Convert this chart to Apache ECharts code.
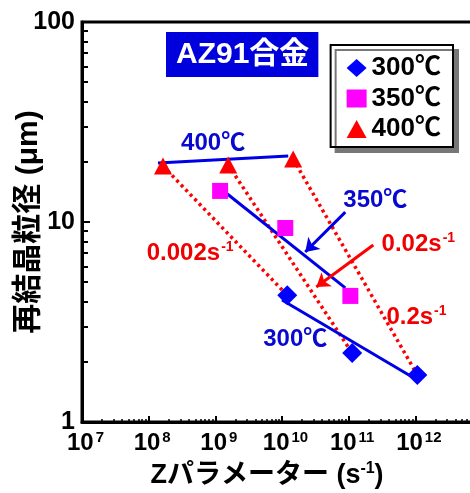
<!DOCTYPE html>
<html><head><meta charset="utf-8">
<script src="https://cdn.jsdelivr.net/npm/echarts@6/dist/echarts.min.js"></script>
<style>html,body{margin:0;padding:0;background:#fff}#c{width:470px;height:493px}</style>
</head><body><div id="c"></div>
<script>
// ---- data ----
const seriesNames = ['300℃', '350℃', '400℃'];
const z300 = [1.2e10, 1.13e11, 1.07e12];
const d300 = [4.3, 2.21, 1.72];
const z350 = [1.18e9, 1.12e10, 1.06e11];
const d350 = [14.3, 9.33, 4.27];
const z400 = [1.64e8, 1.56e9, 1.47e10];
const d400 = [19.05, 19.3, 20.65];
// fitted lines (end points)
const fit300Z = [1.0e10, 9.0e11];  const fit300D = [4.07, 1.68];
const fit350Z = [1.45e9, 8.9e10];  const fit350D = [13.96, 4.68];
const fit400Z = [1.38e8, 1.24e10]; const fit400D = [19.7, 21.4];
// strain-rate lines join 400℃ point i to 300℃ point i
const rateLabels = ['0.002', '0.02', '0.2'];
// annotation arrows
const arrow350Z = [8.9e10, 2.23e10];  const arrow350D = [11.2, 7.08];
const arrowRateZ = [2.34e11, 3.27e10]; const arrowRateD = [7.67, 4.73];
// annotation text anchors (data coordinates)
const noteText = ['400℃', '350℃', '300℃', '0.002s', '0.02s', '0.2s'];
const noteZ = [9.27e8, 2.51e11, 1.58e10, 4.19e8, 1.11e12, 1.04e12];
const noteD = [24.8, 12.9, 2.6, 7.0, 7.76, 3.35];
const noteKind = ['blue', 'blue', 'blue', 'red', 'red', 'red'];
// tick labels
const xTickExp = [7, 8, 9, 10, 11, 12];
const yTickLabels = [1, 10, 100];

// ---- chart ----
const FONT = "'Liberation Sans','Noto Sans CJK JP',sans-serif";
const BLUE = '#0000e6', TEXTBLUE = '#0808d0', RED = '#ff0000', TEXTRED = '#f00000', MAG = '#ff00ff';
const chart = echarts.init(document.getElementById('c'), null, {renderer: 'canvas'});

const pairs = (xs, ys) => xs.map((x, i) => [x, ys[i]]);

const rateSeries = rateLabels.map((r, i) => ({
  type: 'line', name: 'rate' + r, silent: true, symbol: 'none', z: 2,
  lineStyle: {color: RED, width: 3.5, type: [3, 3.5], opacity: 1},
  data: [[z400[i], d400[i]], [z300[i], d300[i]]]
}));
const fitSeries = [[fit300Z, fit300D], [fit350Z, fit350D], [fit400Z, fit400D]].map((f, i) => ({
  type: 'line', name: 'fit' + i, silent: true, symbol: 'none', z: 3,
  lineStyle: {color: BLUE, width: 3, opacity: 1},
  data: pairs(f[0], f[1])
}));

const noteSeries = {
  type: 'scatter', name: 'notes', silent: true, z: 6,
  symbolSize: 1, itemStyle: {color: 'rgba(0,0,0,0)'},
  data: noteText.map((t, i) => {
    const c = noteKind[i] === 'red' ? TEXTRED : TEXTBLUE;
    return {
      value: [noteZ[i], noteD[i]], name: t,
      label: {rich: {
        b: {fontSize: 24, fontWeight: 'bold', fontFamily: FONT, color: c, opacity: 1, textBorderWidth: 0},
        s: {fontSize: 14, fontWeight: 'bold', fontFamily: FONT, color: c, opacity: 1, textBorderWidth: 0, padding: [0, 0, 12, 1]}
      }}
    };
  }),
  label: {
    show: true, position: 'inside', opacity: 1, textBorderWidth: 0, textBorderColor: 'transparent',
    formatter: p => noteKind[p.dataIndex] === 'red' ? '{b|' + p.name + '}{s|-1}' : '{b|' + p.name + '}'
  }
};

const arrowSeries = {
  type: 'lines', coordinateSystem: 'cartesian2d', silent: true, z: 5,
  symbol: ['none', 'arrow'], symbolSize: 13,
  lineStyle: {opacity: 1},
  data: [
    {coords: pairs(arrow350Z, arrow350D), lineStyle: {color: BLUE, width: 3, opacity: 1}},
    {coords: pairs(arrowRateZ, arrowRateD), lineStyle: {color: RED, width: 3, opacity: 1}}
  ]
};

const markerSeries = [
  {name: seriesNames[0], type: 'scatter', symbol: 'diamond', symbolSize: [20, 20], z: 10,
   itemStyle: {color: '#0000ff', opacity: 1}, data: pairs(z300, d300)},
  {name: seriesNames[1], type: 'scatter', symbol: 'rect', symbolSize: [16, 16], z: 10,
   itemStyle: {color: MAG, opacity: 1}, data: pairs(z350, d350)},
  {name: seriesNames[2], type: 'scatter', symbol: 'triangle', symbolSize: [18, 17], z: 10,
   itemStyle: {color: RED, opacity: 1}, data: pairs(z400, d400)}
];

chart.setOption({
  animation: false,
  backgroundColor: '#fff',
  textStyle: {fontFamily: FONT},
  title: {
    text: 'AZ91合金', left: 166, top: 32,
    backgroundColor: '#0000dd', padding: [8, 9, 7, 10],
    textStyle: {color: '#fff', fontSize: 30, fontWeight: 'bold', fontFamily: FONT, lineHeight: 30}
  },
  legend: {
    data: seriesNames, orient: 'vertical', right: 17, top: 45,
    backgroundColor: '#fff', borderColor: '#000', borderWidth: 2,
    shadowColor: '#777', shadowOffsetX: 5, shadowOffsetY: 5, shadowBlur: 0,
    padding: [10, 12, 5, 16], itemGap: 4.5, itemWidth: 20, itemHeight: 18, itemTextGap: 12,
    textStyle: {fontSize: 26, fontWeight: 'bold', color: '#000', fontFamily: FONT}
  },
  grid: {left: 82, top: 22, width: 400, bottom: 71, outerBoundsMode: 'none', containLabel: false,
         show: true, borderColor: '#000', borderWidth: 3},
  xAxis: {
    type: 'log', logBase: 10, min: 1e7, max: 1e13, interval: 1,
    name: '{n|Zパラメーター (s}{s|-1}{n|)}', nameLocation: 'middle', nameGap: 38,
    nameTextStyle: {
      padding: [0, 30, 0, 0],
      rich: {
        n: {fontSize: 27, fontWeight: 'bold', color: '#000', fontFamily: FONT},
        s: {fontSize: 16, fontWeight: 'bold', color: '#000', fontFamily: FONT, padding: [0, 0, 14, 0]}
      }
    },
    axisLine: {lineStyle: {color: '#000', width: 3}},
    axisTick: {inside: true, length: 6, lineStyle: {color: '#000', width: 2}},
    minorTick: {show: true, splitNumber: 9, length: 3, lineStyle: {color: '#000', width: 1.5}},
    splitLine: {show: false},
    axisLabel: {
      margin: 8, padding: [0, 0, 0, 7], showMaxLabel: false,
      formatter: v => {
        const e = Math.round(Math.log10(v));
        return xTickExp.includes(e) ? '{b|10}{s|' + e + '}' : '';
      },
      rich: {
        b: {fontSize: 24, fontWeight: 'bold', color: '#000', fontFamily: FONT},
        s: {fontSize: 15, fontWeight: 'bold', color: '#000', fontFamily: FONT, padding: [0, 0, 12, 2]}
      }
    }
  },
  yAxis: {
    type: 'log', logBase: 10, min: 1, max: 100, interval: 1,
    name: '再結晶粒径 (μm)', nameLocation: 'middle', nameGap: 38, nameRotate: 90, nameMoveOverlap: false,
    nameTextStyle: {fontSize: 30, fontWeight: 'bold', color: '#000', fontFamily: FONT},
    axisLine: {lineStyle: {color: '#000', width: 3}},
    axisTick: {inside: true, length: 8, lineStyle: {color: '#000', width: 2}},
    minorTick: {show: true, splitNumber: 9, length: 6, lineStyle: {color: '#000', width: 2}},
    splitLine: {show: false},
    axisLabel: {
      margin: 7, fontSize: 25, fontWeight: 'bold', color: '#000', fontFamily: FONT,
      formatter: v => yTickLabels.includes(Math.round(v)) ? String(Math.round(v)) : ''
    }
  },
  series: [...rateSeries, ...fitSeries, arrowSeries, noteSeries, ...markerSeries]
});
</script></body></html>
